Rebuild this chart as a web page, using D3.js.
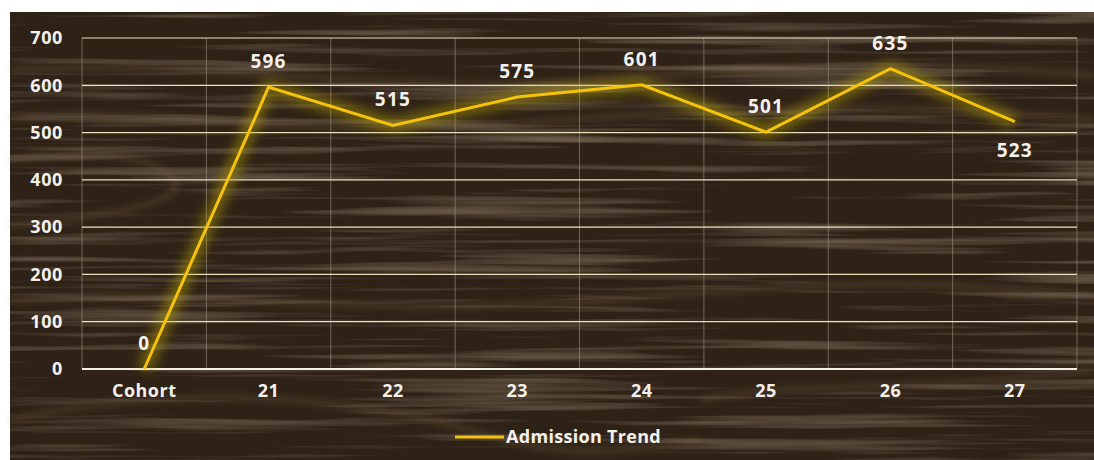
<!DOCTYPE html>
<html>
<head>
<meta charset="utf-8">
<script src="https://cdn.jsdelivr.net/npm/d3@7"></script>
<style>
  body { margin: 0; background: #fff; }
  svg { display: block; font-family: "Open Sans", sans-serif; }
</style>
</head>
<body>
<div id="chart"></div>
<script>
// data
var categories = ["Cohort", "21", "22", "23", "24", "25", "26", "27"];
var admissions = [0, 596, 515, 575, 601, 501, 635, 523];
var yTicks = [0, 100, 200, 300, 400, 500, 600, 700];
var seriesName = "Admission Trend";

var svgWidth = 1094, svgHeight = 460;
var margin = { top: 38, right: 17, bottom: 91, left: 82 };
var width = svgWidth - margin.left - margin.right;
var height = svgHeight - margin.top - margin.bottom;

var svg = d3.select("#chart").append("svg")
  .attr("width", svgWidth)
  .attr("height", svgHeight);

var defs = svg.append("defs");

// wood grain
var wood = defs.append("filter").attr("id", "grain")
  .attr("x", 0).attr("y", 0).attr("width", 1).attr("height", 1);
wood.append("feTurbulence")
  .attr("type", "fractalNoise")
  .attr("baseFrequency", "0.003 0.11")
  .attr("numOctaves", 3)
  .attr("seed", 4)
  .attr("result", "noise");
wood.append("feColorMatrix")
  .attr("in", "noise")
  .attr("type", "matrix")
  .attr("values", "0 0 0 0 0.40  0 0 0 0 0.30  0 0 0 0 0.19  0.75 0 0 0 -0.38")
  .attr("result", "tint");
wood.append("feComposite").attr("in", "tint").attr("in2", "SourceGraphic").attr("operator", "over");

var glow = defs.append("filter").attr("id", "glow")
  .attr("x", "-20%").attr("y", "-20%").attr("width", "140%").attr("height", "140%");
glow.append("feGaussianBlur").attr("in", "SourceGraphic").attr("stdDeviation", 6);

// background panel
svg.append("rect")
  .attr("x", 10).attr("y", 12)
  .attr("width", svgWidth - 10).attr("height", svgHeight - 12)
  .attr("fill", "#2e2016")
  .attr("filter", "url(#grain)");

// soft light streaks of the wood
var streaks = [
  "M10,70 C200,60 400,95 600,80 S900,60 1094,75",
  "M10,118 C150,105 300,140 500,125 S850,100 1094,120",
  "M10,160 C60,150 140,150 170,175 S120,215 10,225",
  "M10,300 C200,285 350,320 600,300 S900,280 1094,295",
  "M10,420 C120,395 250,390 380,410 S520,470 700,440",
  "M700,400 C800,380 900,395 1094,370"
];
svg.append("g").selectAll("path")
  .data(streaks)
  .enter().append("path")
  .attr("d", d => d)
  .attr("fill", "none")
  .attr("stroke", "#8f7658")
  .attr("stroke-opacity", 0.25)
  .attr("stroke-width", 6)
  .style("filter", "blur(3px)");

var chartGroup = svg.append("g")
  .attr("transform", `translate(${margin.left}, ${margin.top})`);

var xScale = d3.scaleBand()
  .domain(categories)
  .range([0, width]);

var yScale = d3.scaleLinear()
  .domain([0, 700])
  .range([height, 0]);

// vertical grid at band edges
var edges = categories.map(c => xScale(c)).concat([width]);
chartGroup.append("g").selectAll("line")
  .data(edges)
  .enter().append("line")
  .attr("x1", d => d).attr("x2", d => d)
  .attr("y1", 0).attr("y2", height)
  .attr("stroke", "#9c9288")
  .attr("stroke-opacity", 0.6)
  .attr("stroke-width", 1);

// horizontal grid
chartGroup.append("g").selectAll("line")
  .data(yTicks)
  .enter().append("line")
  .attr("x1", 0).attr("x2", width)
  .attr("y1", d => yScale(d)).attr("y2", d => yScale(d))
  .attr("stroke", d => d === 0 ? "#f3efe6" : "#e9e2bd")
  .attr("stroke-width", d => d === 0 ? 2 : 1.2);

// axes
var yAxis = d3.axisLeft(yScale).tickValues(yTicks).tickSize(0).tickPadding(19);
var yG = chartGroup.append("g").call(yAxis);
yG.select(".domain").remove();
yG.selectAll("text")
  .attr("fill", "#f4f1ec")
  .attr("font-size", 18)
  .attr("letter-spacing", 0.6)
  .attr("font-weight", 700)
  .attr("font-family", "Open Sans, sans-serif");

var xAxis = d3.axisBottom(xScale).tickSize(0).tickPadding(15);
var xG = chartGroup.append("g")
  .attr("transform", `translate(0, ${height})`)
  .call(xAxis);
xG.select(".domain").remove();
xG.selectAll("text")
  .attr("fill", "#f4f1ec")
  .attr("font-size", 18)
  .attr("letter-spacing", 0.5)
  .attr("font-weight", 700)
  .attr("font-family", "Open Sans, sans-serif");

// line
var line = d3.line()
  .x((d, i) => xScale(categories[i]) + xScale.bandwidth() / 2)
  .y(d => yScale(d));

chartGroup.append("path")
  .datum(admissions)
  .attr("d", line)
  .attr("fill", "none")
  .attr("stroke", "#c9b400")
  .attr("stroke-opacity", 0.45)
  .attr("stroke-width", 14)
  .attr("filter", "url(#glow)");

chartGroup.append("path")
  .datum(admissions)
  .attr("d", line)
  .attr("fill", "none")
  .attr("stroke", "#f5c30c")
  .attr("stroke-width", 3)
  .attr("stroke-linejoin", "miter");

// data labels
chartGroup.append("g").selectAll("text")
  .data(admissions)
  .enter().append("text")
  .attr("x", (d, i) => xScale(categories[i]) + xScale.bandwidth() / 2)
  .attr("y", (d, i) => i === admissions.length - 1 ? yScale(d) + 35 : yScale(d) - 19)
  .attr("text-anchor", "middle")
  .attr("fill", "#f4f1ec")
  .attr("font-size", 19)
  .attr("letter-spacing", 1.2)
  .attr("font-weight", 700)
  .text(d => d);

// legend
var legend = svg.append("g").attr("transform", "translate(455, 437)");
legend.append("line")
  .attr("x1", 0).attr("x2", 49)
  .attr("stroke", "#f5c30c")
  .attr("stroke-width", 3);
legend.append("text")
  .attr("x", 51).attr("y", 6)
  .attr("fill", "#f4f1ec")
  .attr("font-size", 18)
  .attr("letter-spacing", 0.3)
  .attr("font-weight", 700)
  .text(seriesName);
</script>
</body>
</html>
